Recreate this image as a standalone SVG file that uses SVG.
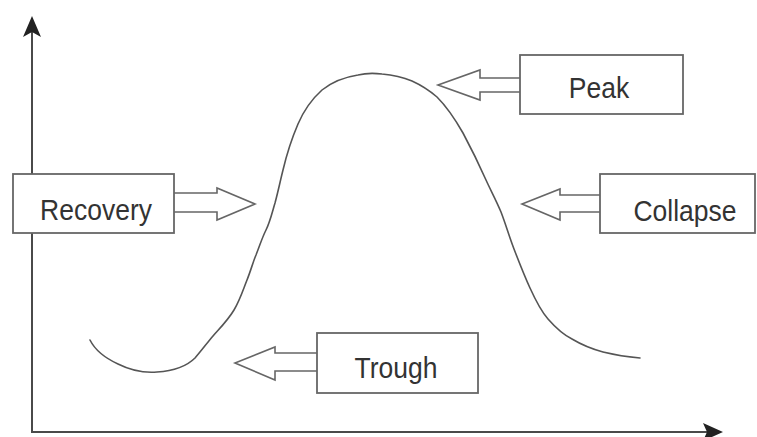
<svg xmlns="http://www.w3.org/2000/svg" width="757" height="437" viewBox="0 0 757 437">
<style>
.axis{stroke:#4a4a4a;stroke-width:2;fill:none}
.head{fill:#222;stroke:none}
.curve{stroke:#555;stroke-width:1.6;fill:none;stroke-linejoin:round;stroke-linecap:round}
.box{fill:#fff;stroke:#666;stroke-width:1.8}
.blk{fill:#fff;stroke:#666;stroke-width:1.6;stroke-linejoin:miter}
.lbl{font-family:"Liberation Sans",Arial,sans-serif;font-size:26.5px;fill:#333;text-anchor:middle}
</style>
<rect width="757" height="437" fill="#fff"/>
<g id="axes">
<line class="axis" x1="32" y1="30" x2="32" y2="432"/>
<line class="axis" x1="31" y1="432" x2="710" y2="432"/>
<path class="head" d="M32,16 L41,37 L32,32 L23,37 Z"/>
<path class="head" d="M723,432 L703,441 L707,432 L703,423 Z"/>
</g>
<g id="cycle-curve">
<path class="curve" d="M90,340 C95,350 105,358 118,364 C130,370 145,373 157,372 C172,371 185,368 195,358 C202,350 207,343 213,336 C221,327 228,320 234,310 C240,300 243,290 247,280 C251,270 253,262 256,255 C260,245 262,238 266,230 C270,222 272,213 275,203 C278,192 280,182 283,170 C287,153 292,138 298,124 C304,110 312,99 322,90 C332,82 345,77 358,75 C366,73 374,73 382,74 C392,75 402,77 412,81 C423,86 430,91 437,97 C447,107 455,119 463,133 C471,148 478,162 486,180 C491,191 496,200 501,212 C506,225 509,236 514,249 C519,262 524,275 530,288 C535,299 540,310 548,319 C555,327 562,334 572,339 C582,345 592,349 603,352 C615,355 628,357 640,358"/>
</g>
<g id="connectors">
<path class="blk" d="M174,193 L217,193 L217,188 L255,204 L217,220 L217,212 L174,212"/>
<path class="blk" d="M520,78 L480,78 L480,70 L438,85 L480,100 L480,92 L520,92"/>
<path class="blk" d="M600,195 L560,195 L560,189 L522,204 L560,220 L560,212 L600,212"/>
<path class="blk" d="M317,353 L275,353 L275,347 L235,363 L275,380 L275,371 L317,371"/>
</g>
<g id="node-recovery">
<rect class="box" x="13" y="174" width="161" height="59"/>
<text class="lbl" transform="translate(96,220) scale(1,1.12)">Recovery</text>
</g>
<g id="node-peak">
<rect class="box" x="520" y="55" width="163" height="59"/>
<text class="lbl" transform="translate(599,98) scale(1,1.12)">Peak</text>
</g>
<g id="node-collapse">
<rect class="box" x="600" y="174" width="155" height="59"/>
<text class="lbl" transform="translate(685,221) scale(1,1.12)">Collapse</text>
</g>
<g id="node-trough">
<rect class="box" x="317" y="333" width="161" height="60"/>
<text class="lbl" transform="translate(396,378) scale(1,1.12)">Trough</text>
</g>
</svg>
